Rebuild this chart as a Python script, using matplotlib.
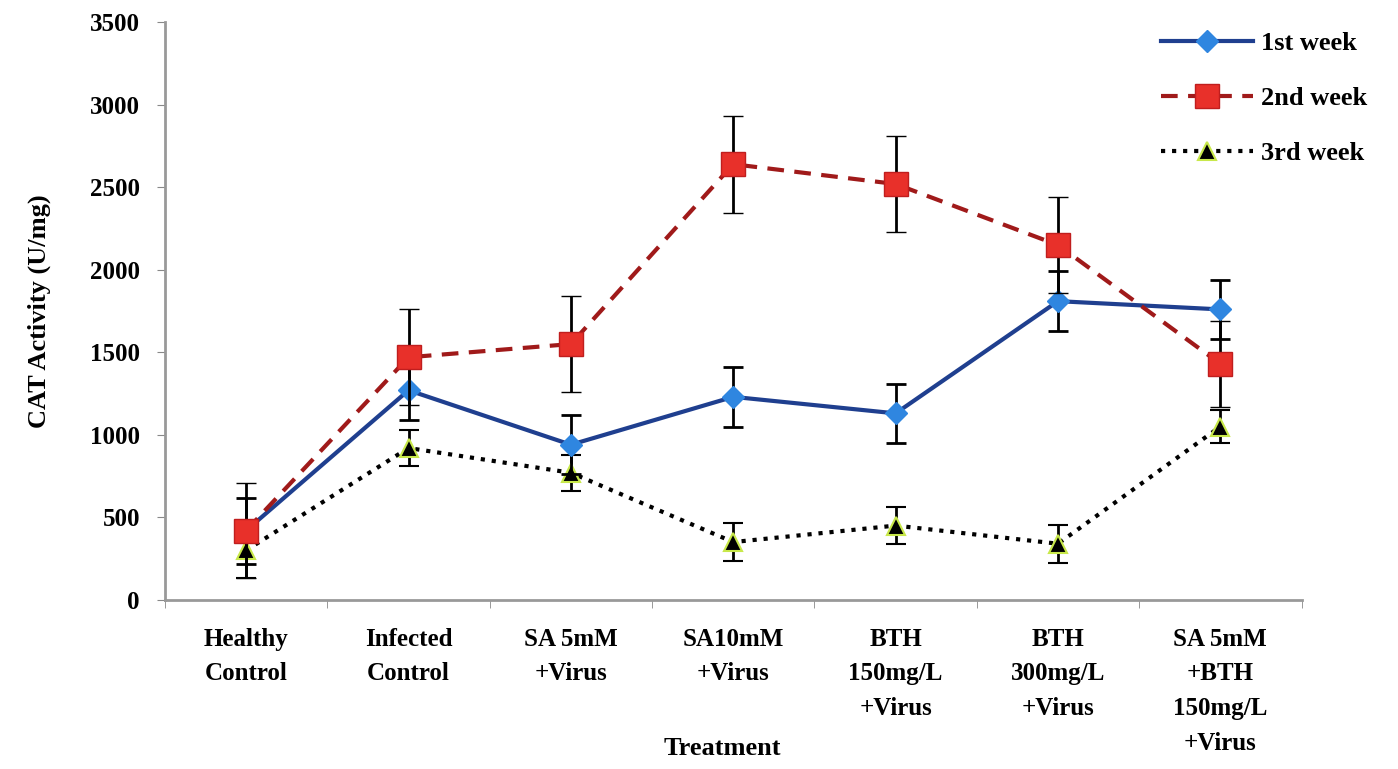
import matplotlib.pyplot as plt
import numpy as np

plt.rcParams['font.family'] = ['Liberation Serif', 'DejaVu Serif']

treatments = ['Healthy\nControl', 'Infected\nControl', 'SA 5mM\n+Virus', 'SA10mM\n+Virus',
              'BTH\n150mg/L\n+Virus', 'BTH\n300mg/L\n+Virus', 'SA 5mM\n+BTH\n150mg/L\n+Virus']

week1 = [420, 1270, 940, 1230, 1130, 1810, 1760]
week1_err = [200, 180, 180, 180, 180, 180, 180]
week2 = [420, 1470, 1550, 2640, 2520, 2150, 1430]
week2_err = [290, 290, 290, 295, 290, 290, 260]
week3 = [300, 920, 770, 350, 450, 340, 1050]
week3_err = [170, 110, 110, 115, 110, 115, 100]

x = np.arange(len(treatments))

fig = plt.figure(figsize=(13.98, 7.69), dpi=100)
ax = fig.add_axes([0.118, 0.22, 0.813, 0.751])

ebk = dict(ecolor='black', elinewidth=2, capsize=7, capthick=2)

ax.errorbar(x, week3, yerr=week3_err, color='black', ls=':', lw=3, marker='^',
            ms=13, mfc='black', mec='#c8e84a', mew=1.5, label='3rd week', zorder=3, **ebk)
ax.errorbar(x, week1, yerr=week1_err, color='#1f3f8f', ls='-', lw=3, marker='D',
            ms=11, mfc='#2f86e0', mec='#2f86e0', label='1st week', zorder=4, **ebk)
ax.errorbar(x, week2, yerr=week2_err, color='#a01a1a', ls=(0, (4, 2.5)), lw=3, marker='s',
            ms=17, mfc='#e8302a', mec='#c01e1e', mew=1, label='2nd week', zorder=5, **ebk)

ax.set_xlim(-0.5, len(treatments) - 0.5)
ax.set_ylim(0, 3500)
ax.set_yticks(np.arange(0, 3501, 500))
ax.set_xticks(x)
ax.set_xticklabels(treatments, fontsize=18, fontweight='bold', linespacing=1.65)
ax.set_xticks(np.arange(-0.5, len(treatments)), minor=True)
ax.tick_params(axis='x', which='major', length=0, pad=20)
ax.tick_params(axis='x', which='minor', length=6, color='#888888')
ax.tick_params(axis='y', length=6, color='#888888', labelsize=18, pad=12)
for lab in ax.get_yticklabels():
    lab.set_fontweight('bold')

for s in ['top', 'right']:
    ax.spines[s].set_visible(False)
for s in ['left', 'bottom']:
    ax.spines[s].set_color('#999999')
    ax.spines[s].set_linewidth(2)

ax.set_ylabel('CAT Activity (U/mg)', fontsize=19, fontweight='bold', labelpad=28)
ax.set_xlabel('Treatment', fontsize=19, fontweight='bold')
ax.xaxis.set_label_coords(0.49, -0.237)

handles, labels = ax.get_legend_handles_labels()
order = [1, 2, 0]
handles = [h[0] for h in handles]
fig.legend([handles[i] for i in order], [labels[i] for i in order],
           loc='upper right', bbox_to_anchor=(0.995, 0.99), frameon=False,
           handlelength=3.5, labelspacing=1.2, handletextpad=0.3,
           prop={'weight': 'bold', 'size': 19})

fig.savefig('out.png', dpi=100)
